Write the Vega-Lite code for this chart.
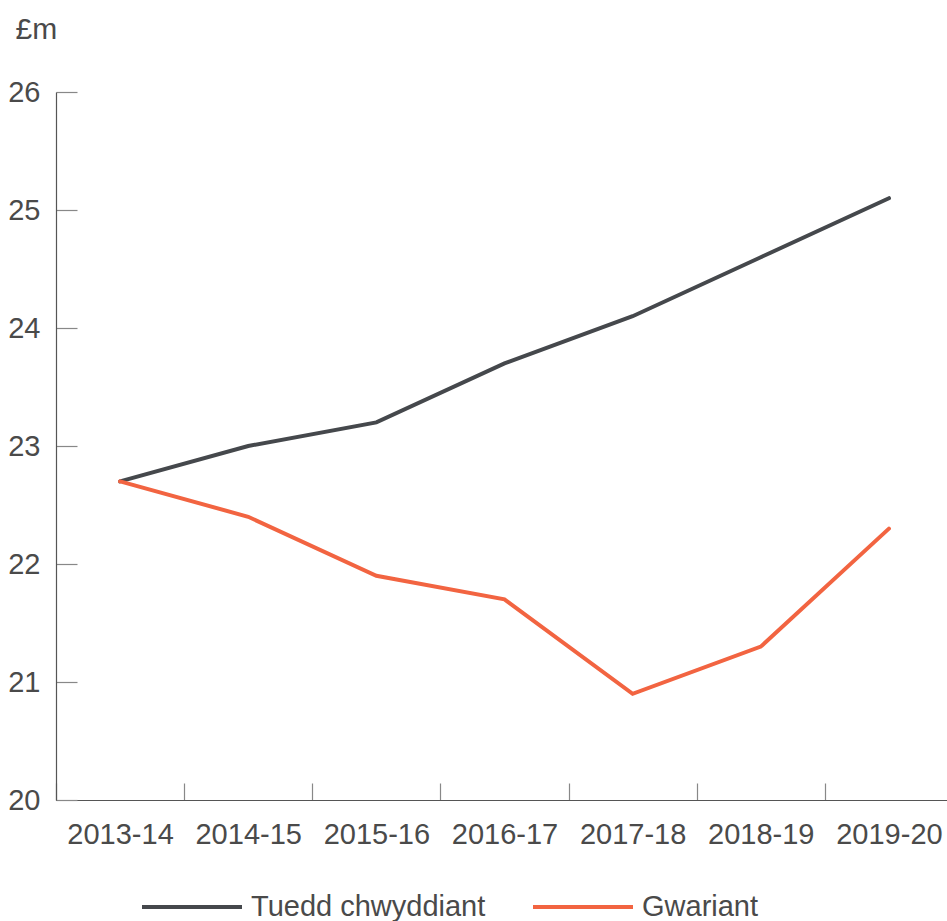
{
  "$schema": "https://vega.github.io/schema/vega-lite/v6.json",
  "autosize": "none",
  "padding": {"left": 56, "top": 92, "right": 0, "bottom": 121},
  "width": 897,
  "height": 708,
  "background": "white",
  "config": {
    "view": {"stroke": null},
    "font": "Liberation Sans",
    "axis": {"grid": false, "labelFont": "Liberation Sans", "titleFont": "Liberation Sans", "labelColor": "#4a4a4a", "titleColor": "#4a4a4a", "domainColor": "#555555", "tickColor": "#888888", "domainWidth": 1.2, "tickWidth": 1.2},
    "legend": {"labelFont": "Liberation Sans", "labelColor": "#4a4a4a", "padding": 0}
  },
  "data": {
    "values": [
      {"year": "2013-14", "series": "Tuedd chwyddiant", "value": 22.7},
      {"year": "2014-15", "series": "Tuedd chwyddiant", "value": 23.0},
      {"year": "2015-16", "series": "Tuedd chwyddiant", "value": 23.2},
      {"year": "2016-17", "series": "Tuedd chwyddiant", "value": 23.7},
      {"year": "2017-18", "series": "Tuedd chwyddiant", "value": 24.1},
      {"year": "2018-19", "series": "Tuedd chwyddiant", "value": 24.6},
      {"year": "2019-20", "series": "Tuedd chwyddiant", "value": 25.1},
      {"year": "2013-14", "series": "Gwariant", "value": 22.7},
      {"year": "2014-15", "series": "Gwariant", "value": 22.4},
      {"year": "2015-16", "series": "Gwariant", "value": 21.9},
      {"year": "2016-17", "series": "Gwariant", "value": 21.7},
      {"year": "2017-18", "series": "Gwariant", "value": 20.9},
      {"year": "2018-19", "series": "Gwariant", "value": 21.3},
      {"year": "2019-20", "series": "Gwariant", "value": 22.3}
    ]
  },
  "mark": {"type": "line", "strokeWidth": 4, "strokeCap": "round", "strokeJoin": "miter"},
  "encoding": {
    "x": {
      "field": "year", "type": "ordinal", "bandPosition": 0.5,
      "scale": {"type": "band", "paddingInner": 0, "paddingOuter": 0},
      "axis": {"title": null, "labelAngle": 0, "labelFontSize": 29, "tickBand": "extent", "tickSize": -17, "labelPadding": 37, "labelBaseline": "top"}
    },
    "y": {
      "field": "value", "type": "quantitative",
      "scale": {"domain": [20, 26], "nice": false, "zero": false},
      "axis": {"values": [20, 21, 22, 23, 24, 25, 26], "title": "£m", "titleAngle": 0, "titleX": -41, "titleY": -54, "titleAlign": "left", "titleBaseline": "alphabetic", "titleFontSize": 30, "titleFontWeight": "normal", "labelFontSize": 29, "tickSize": -21, "labelPadding": 37}
    },
    "color": {
      "field": "series", "type": "nominal",
      "scale": {"domain": ["Tuedd chwyddiant", "Gwariant"], "range": ["#45484c", "#f26441"]},
      "legend": {"title": null, "orient": "none", "direction": "horizontal", "legendX": 84, "legendY": 763, "symbolType": "stroke", "symbolSize": 10000, "symbolStrokeWidth": 4, "labelFontSize": 29, "labelOffset": 7, "labelLimit": 500, "columnPadding": 39}
    }
  }
}
